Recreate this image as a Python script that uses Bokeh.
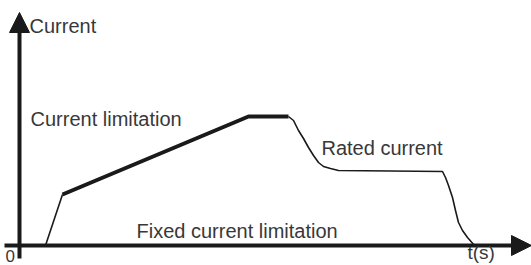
from bokeh.plotting import figure
from bokeh.models import Range1d, Arrow, NormalHead, Label
from bokeh.embed import file_html
from bokeh.resources import INLINE

# Schematic values (time units, current units)
t_rise = [26, 43]
i_rise = [0, 51]

t_limit = [43, 229, 269]
i_limit = [51, 129, 129]

t_rated = [269, 274, 279, 284, 289, 294, 299, 304, 311, 319, 423, 426, 429, 433, 436, 439, 443, 448, 455]
i_rated = [129, 125, 115, 107, 98, 90, 83, 79, 77, 75, 74, 68, 60, 48, 35, 23, 15, 8, 0]

labels = ["Current", "Current limitation", "Rated current", "Fixed current limitation", "0", "t(s)"]

INK = "#1a1a1a"
TXT = "#383838"
FONT = "Liberation Sans"

p = figure(width=531, height=265, output_backend="svg", toolbar_location=None,
           x_range=Range1d(-19, 512), y_range=Range1d(-20, 245),
           x_axis_type=None, y_axis_type=None, min_border=0)
p.grid.visible = False
p.outline_line_color = None
p.background_fill_color = "white"
p.border_fill_color = "white"

# axes with arrow heads
p.add_layout(Arrow(x_start=-15, y_start=0, x_end=512, y_end=0, line_width=4, line_color=INK,
                   end=NormalHead(size=20, fill_color=INK, line_color=INK)))
p.add_layout(Arrow(x_start=0, y_start=-13, x_end=0, y_end=233, line_width=4, line_color=INK,
                   end=NormalHead(size=20, fill_color=INK, line_color=INK)))

p.line(t_rise, i_rise, line_width=1.6, line_color=INK)
p.line(t_limit, i_limit, line_width=4, line_color=INK, line_join="round")
p.line(t_rated, i_rated, line_width=1.6, line_color=INK, line_join="round")

pos = [(10, 220, 20), (11, 127, 20), (302, 98, 20), (117, 15, 20), (-14, -10, 17), (448, -7, 19)]
for txt, (x, y, s) in zip(labels, pos):
    p.add_layout(Label(x=x, y=y, text=txt, text_font=FONT, text_font_size=f"{s}px",
                       text_color=TXT, text_baseline="alphabetic", text_align="left"))

open("out.html", "w").write(file_html(p, INLINE))
